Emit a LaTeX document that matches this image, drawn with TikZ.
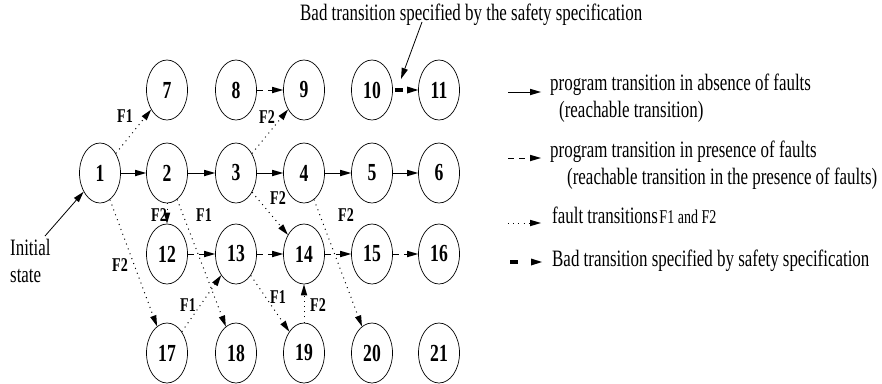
\documentclass[tikz,border=0pt]{standalone}
\usepackage{fontspec}
\setmainfont{Liberation Serif}[FakeStretch=0.72]
\usetikzlibrary{shapes.geometric,arrows.meta}

\tikzset{
  x=1pt, y=-1pt,
  state/.style={draw, ellipse, minimum width=41pt, minimum height=60pt,
    inner sep=0pt, line width=0.7pt,
    font=\fontsize{24.5}{25}\selectfont\bfseries},
  headtip/.style={-{Triangle[length=11pt 0 1,width=6.5pt 0 1,line width=0pt]}},
  prog/.style={line width=0.8pt, headtip},
  faultprog/.style={prog, dash pattern=on 6pt off 5pt},
  fault/.style={line width=1pt, dash pattern=on 1pt off 4.2pt, headtip},
  bad/.style={line width=3.2pt, dash pattern=on 0pt off 2pt on 8pt off 80pt,
    -{Triangle[length=11pt 0 1,width=7pt 0 1,line width=0pt]}},
  flab/.style={font=\fontsize{19.5}{20}\selectfont\bfseries, inner sep=0pt},
  txt/.style={font=\fontsize{23.5}{27}\selectfont, inner sep=0pt, anchor=base west},
}

\begin{document}
\begin{tikzpicture}
\useasboundingbox (0,0) rectangle (882,383);

% states: top row
\node[state] (n7)  at (167,90) {7};
\node[state] (n8)  at (236,90) {8};
\node[state] (n9)  at (304,90) {9};
\node[state] (n10) at (372,90) {10};
\node[state] (n11) at (439,90) {11};
% main row
\node[state] (n1) at (100,173) {1};
\node[state] (n2) at (167,173) {2};
\node[state] (n3) at (236,173) {3};
\node[state] (n4) at (304,173) {4};
\node[state] (n5) at (372,173) {5};
\node[state] (n6) at (439,173) {6};
% third row
\node[state] (n12) at (167,254) {12};
\node[state] (n13) at (236,254) {13};
\node[state] (n14) at (304,254) {14};
\node[state] (n15) at (372,254) {15};
\node[state] (n16) at (439,254) {16};
% bottom row
\node[state] (n17) at (167,353) {17};
\node[state] (n18) at (236,353) {18};
\node[state] (n19) at (304,353) {19};
\node[state] (n20) at (372,353) {20};
\node[state] (n21) at (439,353) {21};

% program transitions in absence of faults
\draw[prog] (n1) -- (n2);
\draw[prog] (n2) -- (n3);
\draw[prog] (n3) -- (n4);
\draw[prog] (n4) -- (n5);
\draw[prog] (n5) -- (n6);

% program transitions in presence of faults
\draw[faultprog] (n8) -- (n9);
\draw[faultprog] (n12) -- (n13);
\draw[faultprog] (n13) -- (n14);
\draw[faultprog] (n14) -- (n15);
\draw[faultprog] (n15) -- (n16);

% bad transition
\draw[bad] (n10) -- (n11);

% fault transitions
\draw[fault] (n1) -- (n7);
\draw[fault] (n1) -- (n17);
\draw[fault] (n2) -- (n12);
\draw[fault] (n2) -- (n18);
\draw[fault] (n3) -- (n9);
\draw[fault] (n3) -- (n14);
\draw[fault] (n4) -- (n20);
\draw[fault] (n17) -- (n13);
\draw[fault] (n13) -- (n19);
\draw[fault] (n19) -- (n14);

% fault labels
\node[flab] (f17)  at (125,116) {F1};
\node[flab] (f117) at (120,265) {F2};
\node[flab] (f212) at (159,215) {F2};
\node[flab] (f218) at (204,215) {F1};
\node[flab] (f39)  at (267,117) {F2};
\node[flab] (f314) at (278,198) {F2};
\node[flab] (f420) at (346,215) {F2};
\node[flab] (f1713) at (188,305) {F1};
\node[flab] (f1319) at (278,297) {F1};
\node[flab] (f1914) at (318,305) {F2};

% initial state
\node[txt] (init1) at (10,255) {Initial};
\node[txt] (init2) at (10,282) {state};
\coordinate (initfrom) at (45,236);
\draw[prog] (initfrom) -- (n1);

% annotation of the bad transition
\node[txt] (badnote) at (300,20) {Bad transition specified by the safety specification};
\coordinate (badfrom) at (422,22);
\coordinate (badto) at (401,79);
\draw[prog] (badfrom) -- (badto);

% legend
\coordinate (la1) at (508,92);  \coordinate (lb1) at (541,92);
\coordinate (la2) at (508,158); \coordinate (lb2) at (541,158);
\coordinate (la3) at (508,223); \coordinate (lb3) at (541,223);
\coordinate (la4) at (508,262); \coordinate (lb4) at (542,262);
\draw[prog] (la1) -- (lb1);
\draw[faultprog] (la2) -- (lb2);
\draw[fault] (la3) -- (lb3);
\draw[bad] (la4) -- (lb4);
\node[txt] (t1a) at (550,90) {program transition in absence of faults};
\node[txt] (t1b) at (559,117) {(reachable transition)};
\node[txt] (t2a) at (550,157) {program transition in presence of faults};
\node[txt] (t2b) at (567,184) {(reachable transition in the presence of faults)};
\node[txt] (t3) at (552,223) {fault transitions\kern1.5pt{\fontsize{19.5}{20}\selectfont F1 and F2}};
\node[txt] (t4) at (552,266) {Bad transition specified by safety specification};
\end{tikzpicture}
\end{document}
